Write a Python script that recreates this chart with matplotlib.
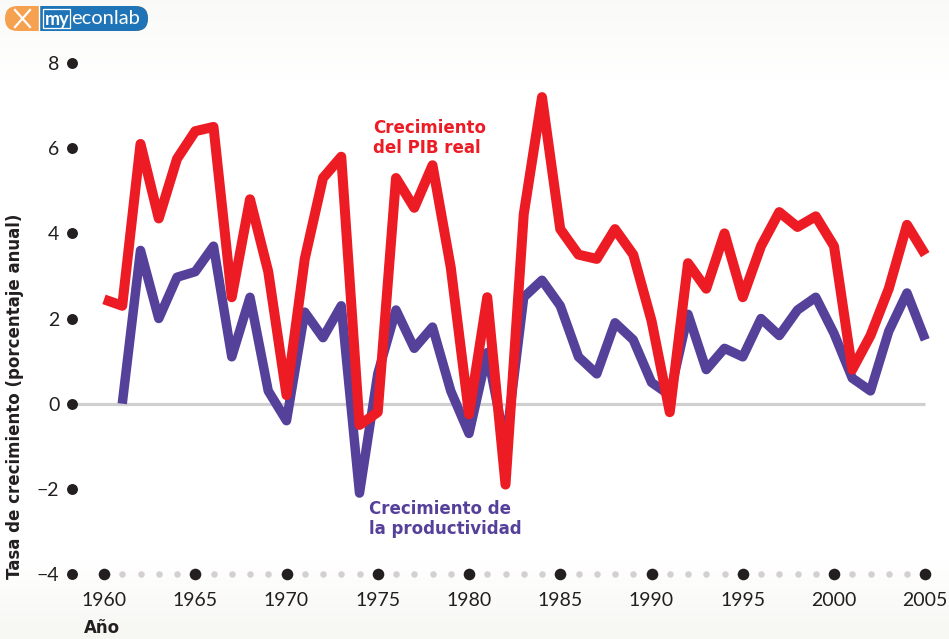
import numpy as np
import matplotlib
matplotlib.use("Agg")
import matplotlib.pyplot as plt
from matplotlib.patches import FancyBboxPatch, Rectangle

# ---------------- data ----------------
gdp_years = list(range(1960, 2006))
gdp_growth = [2.45, 2.3, 6.1, 4.35, 5.75, 6.4, 6.5, 2.5, 4.8, 3.1,
              0.2, 3.4, 5.3, 5.8, -0.5, -0.2, 5.3, 4.6, 5.6, 3.2,
              -0.25, 2.5, -1.9, 4.45, 7.2, 4.1, 3.5, 3.4, 4.1, 3.5,
              1.95, -0.2, 3.3, 2.7, 4.0, 2.5, 3.7, 4.5, 4.15, 4.4,
              3.7, 0.8, 1.6, 2.7, 4.2, 3.5]
prod_years = list(range(1961, 2006))
prod_growth = [0.0, 3.6, 2.0, 2.97, 3.1, 3.7, 1.1, 2.5, 0.3,
               -0.4, 2.15, 1.55, 2.3, -2.1, 0.7, 2.2, 1.3, 1.8, 0.3,
               -0.7, 1.2, -1.0, 2.5, 2.9, 2.3, 1.1, 0.7, 1.9, 1.5,
               0.5, 0.2, 2.1, 0.8, 1.3, 1.1, 2.0, 1.6, 2.2, 2.5,
               1.65, 0.6, 0.3, 1.7, 2.6, 1.5]
x_major = list(range(1960, 2006, 5))
x_minor = [y for y in range(1961, 2005) if y % 5 != 0]
y_ticks = [-4, -2, 0, 2, 4, 6, 8]
y_tick_labels = ["\u22124", "\u22122", "0", "2", "4", "6", "8"]

RED = "#ED1C24"
PURPLE = "#55409A"
DARK = "#231F20"
FONT = "Lato"
BOLD = "DejaVu Sans"

W, H = 949, 639
fig = plt.figure(figsize=(W / 100, H / 100), dpi=100)
fig.patch.set_facecolor("white")

# subtle background gradient
bg = fig.add_axes([0, 0, 1, 1], zorder=-10)
g = np.ones((H, 1, 3))
rows = np.arange(H)
t_bot = np.clip((rows - 560) / 79.0, 0, 1)[:, None]
t_top = np.clip((80 - rows) / 80.0, 0, 1)[:, None]
tint = np.array([0.965, 0.970, 0.950])
g[:, 0, :] = 1 - (1 - tint) * np.maximum(t_bot, t_top * 0.6)
bg.imshow(g, aspect="auto", extent=[0, W, H, 0])
bg.set_xlim(0, W)
bg.set_ylim(H, 0)
bg.axis("off")

# main axes; pixel mapping: x = 104 + 18.25*(year-1960), y0=403, 42.5 px/unit
left_px, right_px, top_px, bot_px = 72, 940, 40, 574
x_left = 1960 + (left_px - 104) / 18.25
x_right = 1960 + (right_px - 104) / 18.25
y_top = (403 - top_px) / 42.5
ax = fig.add_axes([left_px / W, (H - bot_px) / H,
                   (right_px - left_px) / W, (bot_px - top_px) / H])
ax.set_facecolor("none")
ax.set_xlim(x_left, x_right)
ax.set_ylim(-4, y_top)
for s in ax.spines.values():
    s.set_visible(False)

# zero line
ax.plot([x_left, 2005], [0, 0], color="#CFCFCF", lw=2.3, zorder=1,
        solid_capstyle="butt")

# series
ax.plot(prod_years, prod_growth, color=PURPLE, lw=6.8, zorder=3,
        solid_joinstyle="round", solid_capstyle="butt")
ax.plot(gdp_years, gdp_growth, color=RED, lw=7.2, zorder=4,
        solid_joinstyle="round", solid_capstyle="butt")

# axis dots
ax.scatter([x_left] * len(y_ticks), y_ticks, s=62, color=DARK, zorder=5,
           clip_on=False, linewidths=0)
ax.scatter(x_major, [-4] * len(x_major), s=70, color=DARK, zorder=5,
           clip_on=False, linewidths=0)
ax.scatter(x_minor, [-4] * len(x_minor), s=22, color="#D3CFD3", zorder=5,
           clip_on=False, linewidths=0)

ax.set_yticks(y_ticks)
ax.set_yticklabels(y_tick_labels)
ax.set_xticks(x_major)
ax.set_xticklabels([str(v) for v in x_major])
ax.tick_params(axis="y", length=0, pad=9, labelsize=14, labelcolor=DARK)
ax.tick_params(axis="x", length=0, pad=13, labelsize=14, labelcolor=DARK)
for lab in ax.get_xticklabels() + ax.get_yticklabels():
    lab.set_fontfamily(FONT)

# axis titles
fig.text(15 / W, 1 - 396 / H, "Tasa de crecimiento (porcentaje anual)",
         rotation=90, ha="center", va="center", fontsize=12,
         fontweight="bold", color=DARK, fontfamily=BOLD)
fig.text(84 / W, 1 - 628 / H, "Año", ha="left", va="center", fontsize=12,
         fontweight="bold", color=DARK, fontfamily=BOLD)

# annotations
ax.text(1974.75, 6.25, "Crecimiento\ndel PIB real", ha="left", va="center",
        fontsize=12, fontweight="bold", color=RED, fontfamily=BOLD,
        linespacing=1.15)
ax.text(1974.5, -2.7, "Crecimiento de\nla productividad", ha="left",
        va="center", fontsize=12, fontweight="bold", color=PURPLE,
        fontfamily=BOLD, linespacing=1.15)

# logo
lg = fig.add_axes([0, 0, 1, 1], zorder=10)
lg.set_xlim(0, W)
lg.set_ylim(H, 0)
lg.axis("off")
lg.add_patch(FancyBboxPatch((5, 6), 143, 25,
                            boxstyle="round,pad=0,rounding_size=12.5",
                            fc="#F6A14F", ec="none"))
lg.add_patch(Rectangle((40, 6), 80, 25, fc="#1F74B7", ec="none"))
lg.add_patch(FancyBboxPatch((90, 6), 58, 25,
                            boxstyle="round,pad=0,rounding_size=12.5",
                            fc="#1F74B7", ec="none"))
lg.plot([39.5, 39.5], [6, 31], color="white", lw=1.0)
lg.plot([15, 30], [10, 27], color="white", lw=1.6)
lg.plot([30, 15], [10, 27], color="white", lw=1.6)
lg.add_patch(Rectangle((43, 9), 27, 19, fc="none", ec="white", lw=0.9))
lg.text(45, 19, "my", ha="left", va="center", fontsize=13,
        fontweight="bold", color="white", fontfamily=FONT)
lg.text(71, 19, "econlab", ha="left", va="center", fontsize=14.5,
        color="white", fontfamily=FONT)

fig.savefig("out.png", dpi=100, facecolor=fig.get_facecolor())
